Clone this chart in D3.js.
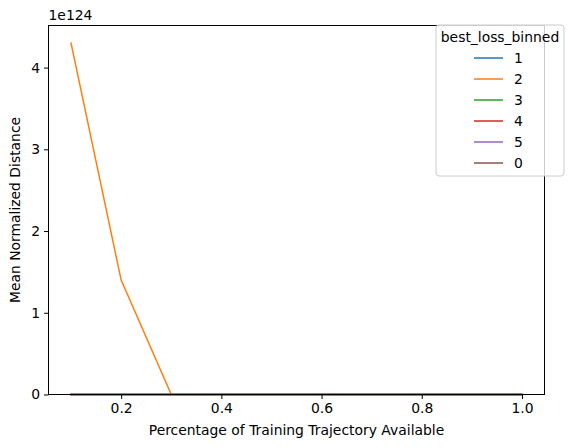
<!DOCTYPE html>
<html>
<head>
<meta charset="utf-8">
<script src="https://cdn.jsdelivr.net/npm/d3@7"></script>
<style>
body { margin: 0; background: #fff; }
text { font-family: "DejaVu Sans", sans-serif; }
</style>
</head>
<body>
<svg id="chart" width="573" height="448"></svg>
<script>
// data, values in units of 1e124
var xs = [0.1, 0.2, 0.3, 0.4, 0.5, 0.6, 0.7, 0.8, 0.9, 1.0];
var groups = ["1", "2", "3", "4", "5", "0"];
var colors = ["#1f77b4", "#ff7f0e", "#2ca02c", "#d62728", "#9467bd", "#8c564b"];
var series1 = [0, 0, 0, 0, 0, 0, 0, 0, 0, 0];
var series2 = [4.30, 1.40, 0, 0, 0, 0, 0, 0, 0, 0];
var series3 = [0, 0, 0, 0, 0, 0, 0, 0, 0, 0];
var series4 = [0, 0, 0, 0, 0, 0, 0, 0, 0, 0];
var series5 = [0, 0, 0, 0, 0, 0, 0, 0, 0, 0];
var series0 = [0, 0, 0, 0, 0, 0, 0, 0, 0, 0];
var allSeries = [series1, series2, series3, series4, series5, series0];
var xTicks = [0.2, 0.4, 0.6, 0.8, 1.0];
var yTicks = [0, 1, 2, 3, 4];

var svg = d3.select("#chart");
var fs = 13.9;
// plot box (window.top is reserved, so not called "top")
var pLeft = 48.5, pRight = 544.5, pTop = 25.5, pBottom = 394.5;

var x = d3.scaleLinear().domain([0.055, 1.045]).range([pLeft, pRight]);
var y = d3.scaleLinear().domain([0, 4.515]).range([pBottom, pTop]);

// lines
var line = d3.line()
    .x(function (d, i) { return x(xs[i]); })
    .y(function (d) { return y(d); });

allSeries.forEach(function (s, i) {
    svg.append("path")
        .attr("d", line(s))
        .attr("fill", "none")
        .attr("stroke", colors[i])
        .attr("stroke-width", 1.5)
        .attr("stroke-linecap", "square");
});

// axes
var xAxis = d3.axisBottom(x).tickValues(xTicks).tickFormat(d3.format(".1f")).tickSize(4.5).tickPadding(4);
var yAxis = d3.axisLeft(y).tickValues(yTicks).tickFormat(d3.format("d")).tickSize(4.5).tickPadding(4);

var gx = svg.append("g").attr("transform", "translate(0," + pBottom + ")").call(xAxis);
var gy = svg.append("g").attr("transform", "translate(" + pLeft + ",0)").call(yAxis);
[gx, gy].forEach(function (g) {
    g.select(".domain").remove();
    g.selectAll("text").attr("font-size", fs).attr("fill", "#000").style("font-family", "DejaVu Sans");
    g.selectAll("line").attr("stroke", "#000").attr("stroke-width", 1);
});

// frame
svg.append("rect")
    .attr("x", pLeft).attr("y", pTop)
    .attr("width", pRight - pLeft).attr("height", pBottom - pTop)
    .attr("fill", "none").attr("stroke", "#000").attr("stroke-width", 1);

// labels
svg.append("text").attr("x", pLeft).attr("y", 20).attr("font-size", fs).text("1e124");
svg.append("text")
    .attr("x", (pLeft + pRight) / 2).attr("y", 435)
    .attr("text-anchor", "middle").attr("font-size", fs)
    .text("Percentage of Training Trajectory Available");
svg.append("text")
    .attr("transform", "translate(20," + ((pTop + pBottom) / 2) + ") rotate(-90)")
    .attr("text-anchor", "middle").attr("font-size", fs)
    .text("Mean Normalized Distance");

// legend
var lg = svg.append("g");
lg.append("rect")
    .attr("x", 436).attr("y", 25).attr("width", 128).attr("height", 151)
    .attr("rx", 3).attr("fill", "#fff").attr("fill-opacity", 0.8)
    .attr("stroke", "#ccc").attr("stroke-width", 1);
lg.append("text").attr("x", 500).attr("y", 42).attr("text-anchor", "middle")
    .attr("font-size", fs).text("best_loss_binned");
groups.forEach(function (g, i) {
    var yy = 58 + i * 21;
    lg.append("line").attr("x1", 474).attr("x2", 503).attr("y1", yy).attr("y2", yy)
        .attr("stroke", colors[i]).attr("stroke-width", 1.5);
    lg.append("text").attr("x", 514).attr("y", yy + 5).attr("font-size", fs).text(g);
});
</script>
</body>
</html>
